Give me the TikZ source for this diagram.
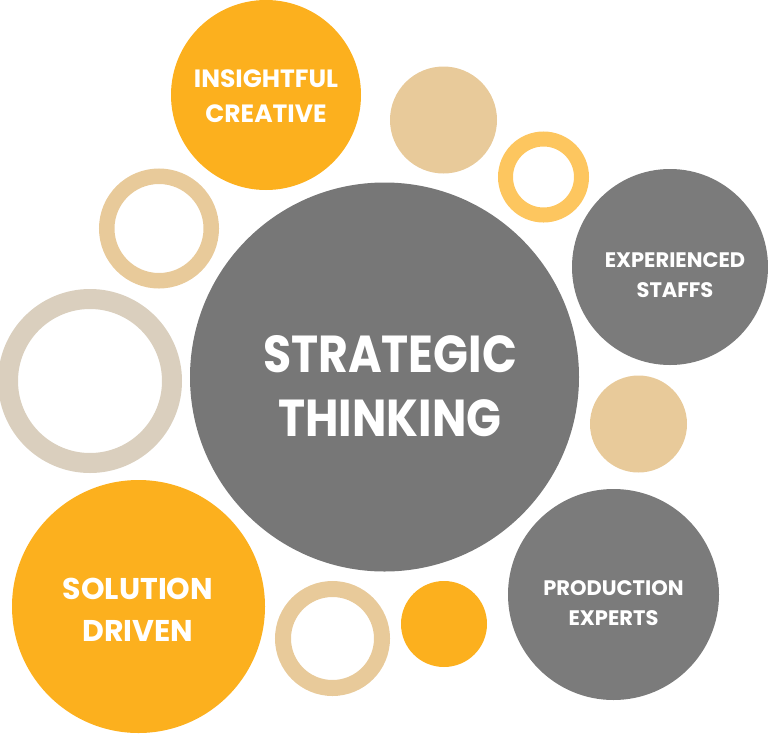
\documentclass[tikz,border=0pt]{standalone}
\usepackage{fontspec}
\setmainfont{Poppins}
\newfontfamily\popnarrow{Poppins}[FakeStretch=0.88]
\definecolor{orng}{HTML}{FCB01E}
\definecolor{tan}{HTML}{E8CA9A}
\definecolor{yring}{HTML}{FDC65F}
\definecolor{pale}{HTML}{DACFBE}
\definecolor{gmain}{HTML}{777777}
\definecolor{gside}{HTML}{7B7B7B}
\tikzset{
  disc/.style={circle, inner sep=0pt, outer sep=0pt, draw=none, fill=#1},
  ring/.style={circle, inner sep=0pt, outer sep=0pt, fill=none, draw=#1},
  lbl/.style={text=white, align=center, font=\bfseries},
}
\begin{document}
\begin{tikzpicture}[x=1pt,y=-1pt]
\useasboundingbox (0,0) rectangle (768,734);
% central
\node[disc=gmain, minimum size=389pt] (center) at (384.5,377) {};
\node[lbl, font=\popnarrow\bfseries\fontsize{52}{64}\selectfont] (centertxt) at (390,386) {STRATEGIC\\THINKING};
% insightful creative
\node[disc=orng, minimum size=190pt] (insight) at (266,95) {};
\node[lbl, font=\bfseries\fontsize{25}{35}\selectfont] (insighttxt) at (266,96.5) {INSIGHTFUL\\CREATIVE};
% experienced staffs
\node[disc=gside, minimum size=196pt] (exper) at (670,267) {};
\node[lbl, font=\bfseries\fontsize{21}{30}\selectfont] (expertxt) at (675,275) {EXPERIENCED\\STAFFS};
% solution driven
\node[disc=orng, minimum size=253pt] (solution) at (138.5,606.5) {};
\node[lbl, font=\bfseries\fontsize{30}{42}\selectfont] (solutiontxt) at (138,610) {SOLUTION\\DRIVEN};
% production experts
\node[disc=gside, minimum size=211pt] (prod) at (613.5,594.5) {};
\node[lbl, font=\bfseries\fontsize{21}{30}\selectfont] (prodtxt) at (613.5,603) {PRODUCTION\\EXPERTS};
% tan discs
\node[disc=tan, minimum size=107pt] (tantop) at (443.5,120) {};
\node[disc=tan, minimum size=97pt] (tanright) at (638.5,424) {};
% small orange disc
\node[disc=orng, minimum size=86pt] (orsmall) at (444,624) {};
% rings
\node[ring=yring, line width=15pt, minimum size=76pt] (yellowring) at (543.5,177) {};
\node[ring=tan, line width=15.5pt, minimum size=104.5pt] (tanringleft) at (159,228.5) {};
\node[ring=pale, line width=20pt, minimum size=164pt] (palering) at (90,381) {};
\node[ring=tan, line width=16pt, minimum size=99pt] (tanringbottom) at (332.5,638.5) {};
\end{tikzpicture}
\end{document}
